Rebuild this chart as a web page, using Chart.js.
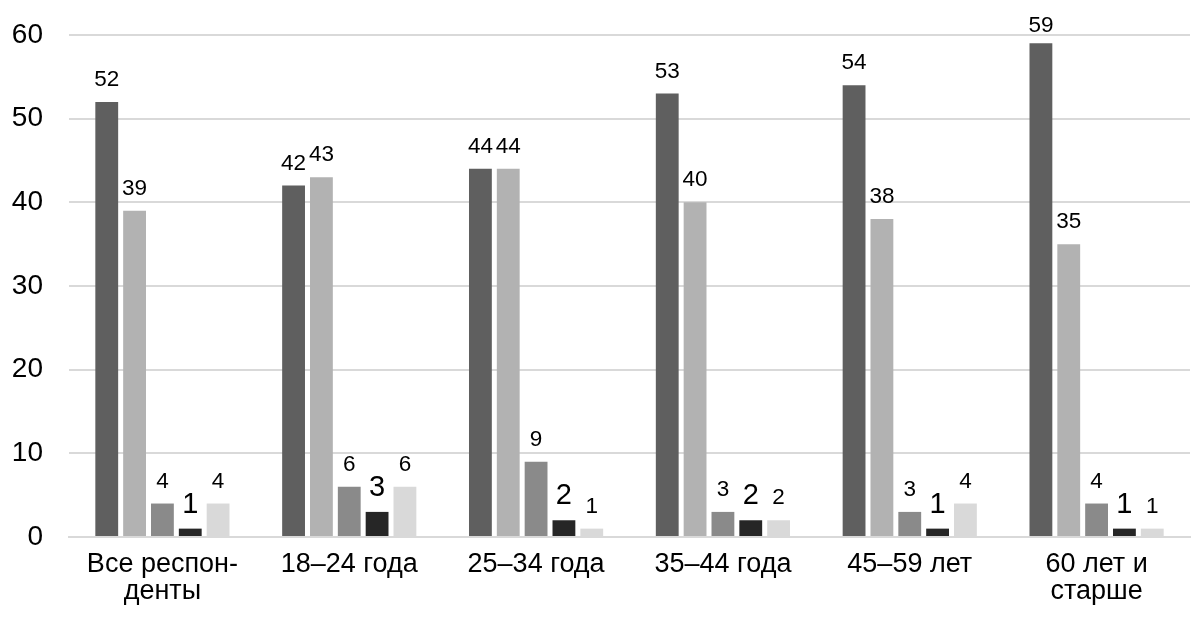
<!DOCTYPE html>
<html>
<head>
<meta charset="utf-8">
<script src="https://cdn.jsdelivr.net/npm/chart.js@4"></script>
<style>
  html, body { margin: 0; padding: 0; background: #fff; }
  #wrap { width: 1198px; height: 619px; }
</style>
</head>
<body>
<div id="wrap"><canvas id="chart"></canvas></div>
<script>
const categorias = [['Все респон-', 'денты'], '18–24 года', '25–34 года', '35–44 года', '45–59 лет', ['60 лет и', 'старше']];
const serie1 = [52, 42, 44, 53, 54, 59];
const serie2 = [39, 43, 44, 40, 38, 35];
const serie3 = [4, 6, 9, 3, 3, 4];
const serie4 = [1, 3, 2, 2, 1, 1];
const serie5 = [4, 6, 1, 2, 4, 1];
const colores = ['#5f5f5f', '#b2b2b2', '#8a8a8a', '#262626', '#d9d9d9'];
const tamLetra = [22.5, 22.5, 22.5, 29, 22.5];
const fuente = '"Liberation Sans", Arial, sans-serif';

// etiquetas encima de cada barra
const etiquetas = {
    id: 'etiquetas',
    afterDatasetsDraw(chart) {
        const ctx = chart.ctx;
        ctx.save();
        ctx.fillStyle = '#000';
        ctx.textAlign = 'center';
        ctx.textBaseline = 'alphabetic';
        chart.data.datasets.forEach((ds, i) => {
            ctx.font = tamLetra[i] + 'px ' + fuente;
            chart.getDatasetMeta(i).data.forEach((bar, j) => {
                ctx.fillText(ds.data[j], bar.x, Math.max(bar.y - 16, 32));
            });
        });
        ctx.restore();
    }
};

const series = [serie1, serie2, serie3, serie4, serie5];

new Chart(document.getElementById('chart'), {
    type: 'bar',
    data: {
        labels: categorias,
        datasets: series.map((s, i) => ({ data: s, backgroundColor: colores[i], borderWidth: 0 }))
    },
    options: {
        responsive: true,
        maintainAspectRatio: false,
        animation: false,
        layout: { padding: { top: 35, right: 8, left: 12, bottom: 0 } },
        datasets: { bar: { barPercentage: 0.82, categoryPercentage: 0.745 } },
        plugins: { legend: { display: false }, tooltip: { enabled: false } },
        scales: {
            y: {
                min: 0, max: 60,
                afterFit: s => { s.width = 57; s.paddingTop = 0; s.paddingBottom = 0; },
                ticks: { stepSize: 10, color: '#000', padding: 26, font: { size: 28, family: fuente } },
                grid: { color: '#d9d9d9', lineWidth: 2, drawTicks: false },
                border: { display: false }
            },
            x: {
                ticks: { color: '#000', padding: 14, maxRotation: 0, font: { size: 27, family: fuente, lineHeight: 1.0 } },
                grid: { display: false, drawTicks: false },
                border: { color: '#d9d9d9', width: 2 }
            }
        }
    },
    plugins: [etiquetas]
});
</script>
</body>
</html>
